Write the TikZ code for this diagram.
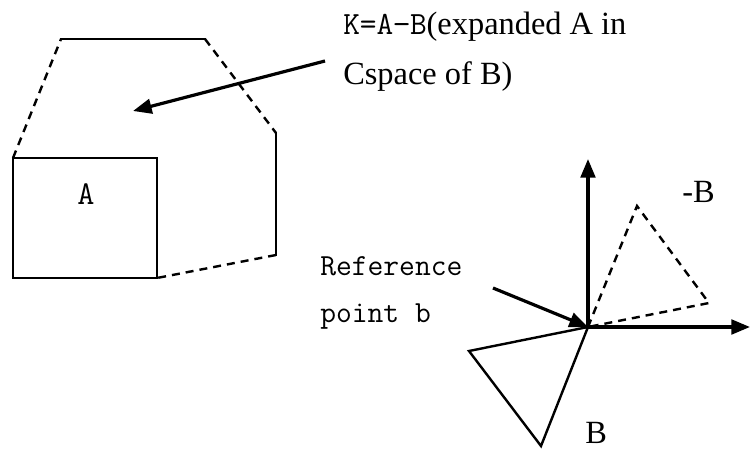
\documentclass[tikz,border=0pt]{standalone}
\usepackage{fontspec}
\setmainfont{Liberation Serif}
\usetikzlibrary{arrows.meta}
\begin{document}
\begin{tikzpicture}[x=0.75pt,y=-0.75pt,
  solidline/.style={line width=1.8pt, line join=miter, line cap=rect},
  dashline/.style={line width=1.8pt, dash pattern=on 6pt off 4.5pt},
  pointer/.style={line width=2.4pt, -{Triangle[length=14pt,width=11pt]}},
  lab/.style={font=\fontsize{24.3}{28}\selectfont, inner sep=0pt, anchor=base west},
  monolab/.style={font=\fontsize{23}{28}\selectfont\ttfamily, inner sep=0pt, anchor=base west}]
\useasboundingbox (0,0) rectangle (750,449);
% box A
\coordinate (a1) at (13,158);
\coordinate (a2) at (157,158);
\coordinate (a3) at (157,278);
\coordinate (a4) at (13,278);
\draw[solidline] (a1) -- (a2) -- (a3) -- (a4) -- cycle;
\node[monolab, font=\fontsize{25}{28}\selectfont\ttfamily] (labA) at (77,205) {A};
% expanded polygon K
\coordinate (k1) at (61,39);
\coordinate (k2) at (205,39);
\coordinate (k3) at (276,133);
\coordinate (k4) at (276,255);
\draw[dashline] (a1) -- (k1);
\draw[solidline] (k1) -- (k2);
\draw[dashline] (k2) -- (k3);
\draw[solidline] (k3) -- (k4);
\draw[dashline] (k4) -- (a3);
% K label
\node[lab] (klab1) at (343,35) {{\ttfamily K=A−B}(expanded A in};
\node[lab] (klab2) at (343,85) {Cspace of B)};
\coordinate (kstart) at (325,61);
\coordinate (kend) at (133,111);
\draw[pointer] (kstart) -- (kend);
% axes
\coordinate (o) at (588,327);
\coordinate (yend) at (588,159);
\coordinate (xend) at (750,327);
\draw[pointer] (o) -- (yend);
\draw[pointer] (o) -- (xend);
% -B triangle
\coordinate (nb1) at (637,206);
\coordinate (nb2) at (709,303);
\draw[dashline] (o) -- (nb1) -- (nb2) -- cycle;
\node[lab] (nblab) at (682,203) {-B};
% B triangle
\coordinate (b1) at (469,351);
\coordinate (b2) at (541,446);
\draw[solidline] (o) -- (b1) -- (b2) -- cycle;
\node[lab] (blab) at (585,443) {B};
% reference point
\node[monolab] (ref1) at (320,276) {Reference};
\node[monolab] (ref2) at (320,322) {point b};
\coordinate (rstart) at (493,288);
\draw[pointer] (rstart) -- (o);
\end{tikzpicture}
\end{document}
